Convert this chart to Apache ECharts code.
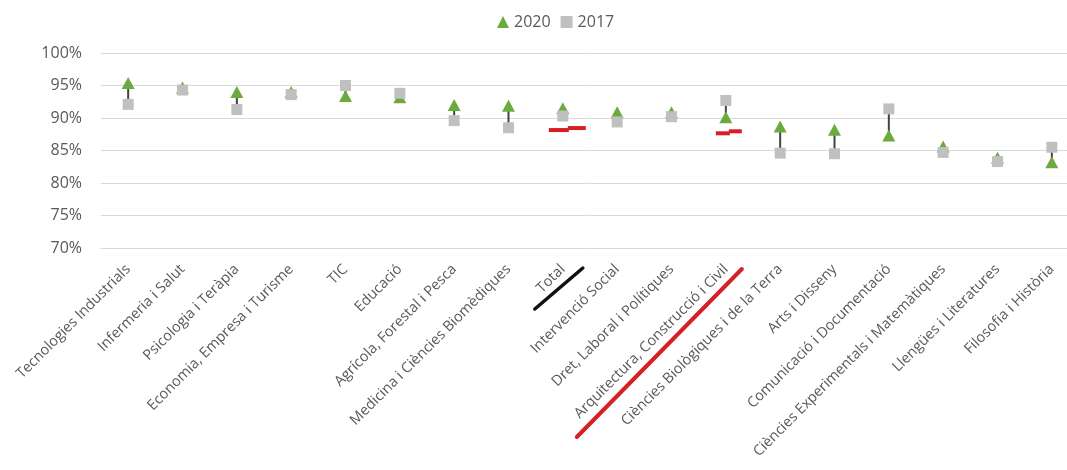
<!DOCTYPE html>
<html>
<head>
<meta charset="utf-8">
<script src="https://cdn.jsdelivr.net/npm/echarts@6/dist/echarts.min.js"></script>
<style>
html,body{margin:0;padding:0;background:#fff;}
#chart{width:1067px;height:470px;}
</style>
</head>
<body>
<div id="chart"></div>
<script>
const categories = [
  'Tecnologies Industrials',
  'Infermeria i Salut',
  'Psicologia i Teràpia',
  'Economia, Empresa i Turisme',
  'TIC',
  'Educació',
  'Agrícola, Forestal i Pesca',
  'Medicina i Ciències Biomèdiques',
  'Total',
  'Intervenció Social',
  'Dret, Laboral i Polítiques',
  'Arquitectura, Construcció i Civil',
  'Ciències Biològiques i de la Terra',
  'Arts i Disseny',
  'Comunicació i Documentació',
  'Ciències Experimentals i Matemàtiques',
  'Llengües i Literatures',
  'Filosofia i Història'
];
const values2020 = [95.4, 94.7, 94.0, 94.0, 93.4, 93.2, 92.0, 91.9, 91.5, 90.9, 90.9, 90.1, 88.7, 88.2, 87.3, 85.6, 83.9, 83.2];
const values2017 = [92.1, 94.3, 91.3, 93.6, 95.0, 93.8, 89.6, 88.5, 90.3, 89.4, 90.2, 92.7, 84.6, 84.5, 91.4, 84.7, 83.3, 85.5];
// hand-drawn red marks (reference level) on two categories
const redMarkCategories = ['Total', 'Arquitectura, Construcció i Civil'];
const redMarkValues = [88.3, 87.8];
const yTicks = [70, 75, 80, 85, 90, 95, 100];

const textColor = '#595959';
const font = 'Open Sans';

const chart = echarts.init(document.getElementById('chart'), null, {renderer: 'canvas'});

const hiLo = categories.map((c, i) => [i, values2020[i], values2017[i]]);
const redData = redMarkCategories.map((c, k) => [categories.indexOf(c), redMarkValues[k]]);

chart.setOption({
  animation: false,
  backgroundColor: '#fff',
  textStyle: {fontFamily: font},
  legend: {
    top: 9,
    left: 492,
    data: [
      {name: '2020', icon: 'triangle'},
      {name: '2017', icon: 'rect'}
    ],
    itemWidth: 12,
    itemHeight: 12,
    itemGap: 10,
    textStyle: {color: textColor, fontSize: 16, fontFamily: font}
  },
  grid: {left: 101, top: 53, width: 978, height: 195, containLabel: false, outerBoundsMode: 'none'},
  xAxis: {
    type: 'category',
    data: categories,
    boundaryGap: true,
    axisLine: {show: true, lineStyle: {color: '#d9d9d9', width: 1}},
    axisTick: {show: false},
    axisLabel: {
      interval: 0,
      rotate: 45,
      margin: 19,
      color: textColor,
      fontSize: 14.5,
      fontFamily: font
    }
  },
  yAxis: {
    type: 'value',
    min: yTicks[0],
    max: yTicks[yTicks.length - 1],
    interval: 5,
    axisLine: {show: false},
    axisTick: {show: false},
    splitLine: {lineStyle: {color: '#d9d9d9', width: 1}},
    axisLabel: {
      formatter: '{value}%',
      margin: 19,
      color: textColor,
      fontSize: 16,
      fontFamily: font
    }
  },
  series: [
    {
      type: 'custom',
      name: 'hilo',
      z: 1,
      silent: true,
      data: hiLo,
      encode: {x: 0, y: [1, 2]},
      renderItem: function (params, api) {
        const a = api.coord([api.value(0), api.value(1)]);
        const b = api.coord([api.value(0), api.value(2)]);
        return {
          type: 'line',
          shape: {x1: a[0], y1: a[1], x2: b[0], y2: b[1]},
          style: {stroke: '#444', lineWidth: 2}
        };
      }
    },
    {
      type: 'custom',
      name: 'red',
      z: 1,
      silent: true,
      data: redData,
      encode: {x: 0, y: 1},
      renderItem: function (params, api) {
        const p = api.coord([api.value(0), api.value(1)]);
        const isTotal = params.dataIndex === 0;
        const x0 = p[0] + (isTotal ? -14 : -10);
        const xm = p[0] + (isTotal ? 6 : 4);
        const x1 = p[0] + (isTotal ? 23 : 16);
        return {
          type: 'group',
          children: [
            {type: 'line', shape: {x1: x0, y1: p[1] + 1, x2: xm, y2: p[1] + 1}, style: {stroke: '#d91f26', lineWidth: 4}},
            {type: 'line', shape: {x1: xm - 1, y1: p[1] - 1, x2: x1, y2: p[1] - 1}, style: {stroke: '#d91f26', lineWidth: 4}}
          ]
        };
      }
    },
    {
      name: '2020',
      type: 'scatter',
      z: 3,
      symbol: 'triangle',
      symbolSize: [13, 12],
      itemStyle: {color: '#6aaa3f', opacity: 1},
      data: values2020
    },
    {
      name: '2017',
      type: 'scatter',
      z: 4,
      symbol: 'rect',
      symbolSize: 11,
      itemStyle: {color: '#c0c0c0', opacity: 1},
      data: values2017
    }
  ]
});

// hand-drawn underline annotations under two category labels
function annotate() {
  const cT = chart.convertToPixel({xAxisIndex: 0}, 'Total');
  const cA = chart.convertToPixel({xAxisIndex: 0}, 'Arquitectura, Construcció i Civil');
  const y0 = chart.convertToPixel({yAxisIndex: 0}, yTicks[0]);
  chart.setOption({
    graphic: [
      {type: 'line', shape: {x1: cT - 28, y1: y0 + 61, x2: cT + 20, y2: y0 + 20},
        style: {stroke: '#111', lineWidth: 3.5, lineCap: 'round'}, z: 10},
      {type: 'line', shape: {x1: cA - 149, y1: y0 + 189, x2: cA + 16, y2: y0 + 21},
        style: {stroke: '#d62028', lineWidth: 4, lineCap: 'round'}, z: 10}
    ]
  });
}
annotate();
</script>
</body>
</html>
